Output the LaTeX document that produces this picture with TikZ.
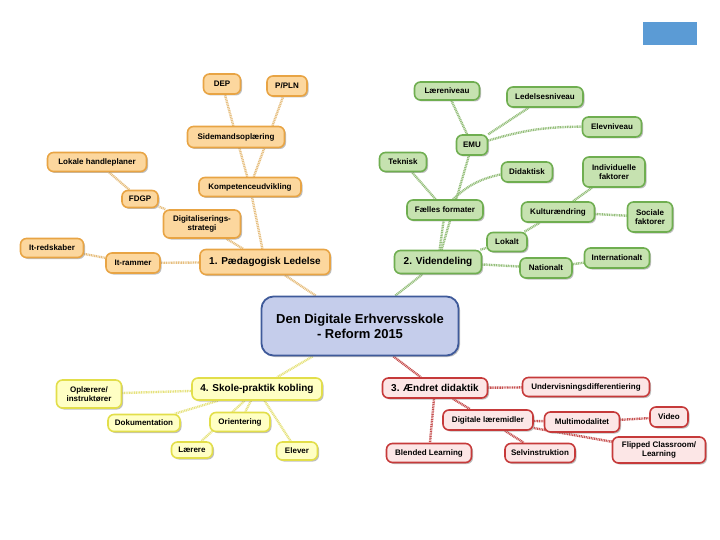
\documentclass[tikz,border=0pt]{standalone}
\usepackage{fontspec}
\setmainfont{Liberation Sans}
\usetikzlibrary{shadows,backgrounds}
\definecolor{ofill}{HTML}{FCD79E}
\definecolor{odraw}{HTML}{E8A444}
\definecolor{oline}{HTML}{E6BE7E}
\definecolor{gfill}{HTML}{C6E2B0}
\definecolor{gdraw}{HTML}{6FAE50}
\definecolor{gline}{HTML}{94BE7A}
\definecolor{rfill}{HTML}{FCE6E6}
\definecolor{rdraw}{HTML}{C63A3A}
\definecolor{rline}{HTML}{C65050}
\definecolor{yfill}{HTML}{FFFFC4}
\definecolor{ydraw}{HTML}{E2DE4A}
\definecolor{yline}{HTML}{E6E27E}
\definecolor{cfill}{HTML}{C5CDEB}
\definecolor{cdraw}{HTML}{3F5A9A}
\definecolor{bluebox}{HTML}{5B9BD5}
\begin{document}
\begin{tikzpicture}[x=1pt,y=-1pt,
  sz/.style 2 args={minimum width=#1pt, minimum height=#2pt},
  base/.style={rounded corners=6pt, line width=1.6pt, align=center, inner sep=1pt,
    font=\bfseries\fontsize{8}{9}\selectfont,
    drop shadow={shadow xshift=1.5pt,shadow yshift=-1.5pt,opacity=0.5}},
  big/.style={font=\bfseries\fontsize{10}{12}\selectfont},
  onode/.style={base, fill=ofill, draw=odraw},
  gnode/.style={base, fill=gfill, draw=gdraw},
  rnode/.style={base, fill=rfill, draw=rdraw},
  ynode/.style={base, fill=yfill, draw=ydraw},
  link/.style={line width=2.4pt, dash pattern=on 1pt off 0.7pt},
  olink/.style={link, draw=oline},
  glink/.style={link, draw=gline},
  rlink/.style={link, draw=rline},
  ylink/.style={link, draw=yline}]
\useasboundingbox (0,0) rectangle (720,540);
\fill[bluebox] (643,22) rectangle (697,45);
% center
\node[base, rounded corners=12pt, fill=cfill, draw=cdraw, line width=1.8pt, sz={197}{59},
  font=\bfseries\fontsize{13}{15}\selectfont] (c) at (360,326) {Den Digitale Erhvervsskole\\- Reform 2015};
% orange
\node[onode, sz={37}{20}] (dep) at (222,84) {DEP};
\node[onode, sz={40}{20}] (ppln) at (287,86) {P/PLN};
\node[onode, sz={97}{21}] (side) at (236,137) {Sidemandsoplæring};
\node[onode, sz={99}{19}] (lok) at (97,162) {Lokale handleplaner};
\node[onode, sz={102}{19}] (komp) at (250,187) {Kompetenceudvikling};
\node[onode, sz={36}{17}] (fdgp) at (140,199) {FDGP};
\node[onode, sz={77}{28}] (digs) at (202,224) {Digitaliserings-\\strategi};
\node[onode, sz={63}{19}] (itred) at (52,248) {It-redskaber};
\node[onode, sz={54}{20}] (itram) at (133,263) {It-rammer};
\node[onode, big, sz={130}{25}] (paed) at (265,262) {1. Pædagogisk Ledelse};
% green
\node[gnode, sz={65}{18}] (laer) at (447,91) {Læreniveau};
\node[gnode, sz={76}{20}] (led) at (545,97) {Ledelsesniveau};
\node[gnode, sz={59}{20}] (elev) at (612,127) {Elevniveau};
\node[gnode, sz={31}{20}] (emu) at (472,145) {EMU};
\node[gnode, sz={47}{19}] (tek) at (403,162) {Teknisk};
\node[gnode, sz={51}{20}] (did) at (527,172) {Didaktisk};
\node[gnode, sz={62}{30}] (ind) at (614,172) {Individuelle\\faktorer};
\node[gnode, sz={76}{20}] (fael) at (445,210) {Fælles formater};
\node[gnode, sz={73}{20}] (kult) at (558,212) {Kulturændring};
\node[gnode, sz={45}{30}] (soc) at (650,217) {Sociale\\faktorer};
\node[gnode, sz={40}{19}] (lokalt) at (507,242) {Lokalt};
\node[gnode, big, sz={87}{23}] (vid) at (438,262) {2. Videndeling};
\node[gnode, sz={65}{20}] (intl) at (617,258) {Internationalt};
\node[gnode, sz={52}{20}] (nat) at (546,268) {Nationalt};
% yellow
\node[ynode, big, sz={130}{22}] (sko) at (257,389) {4. Skole-praktik kobling};
\node[ynode, sz={65}{28}] (opl) at (89,394) {Oplærere/\\instruktører};
\node[ynode, sz={72}{17}] (dok) at (144,423) {Dokumentation};
\node[ynode, sz={60}{19}] (ori) at (240,422) {Orientering};
\node[ynode, sz={41}{16}] (lae) at (192,450) {Lærere};
\node[ynode, sz={41}{18}] (elv) at (297,451) {Elever};
% red
\node[rnode, big, sz={105}{20}] (aen) at (435,388) {3. Ændret didaktik};
\node[rnode, sz={127}{19}] (und) at (586,387) {Undervisningsdifferentiering};
\node[rnode, sz={90}{20}] (dig) at (488,420) {Digitale læremidler};
\node[rnode, sz={75}{20}] (mul) at (582,422) {Multimodalitet};
\node[rnode, sz={38}{20}] (vid2) at (669,417) {Video};
\node[rnode, sz={93}{26}] (fli) at (659,450) {Flipped Classroom/\\Learning};
\node[rnode, sz={85}{19}] (ble) at (429,453) {Blended Learning};
\node[rnode, sz={70}{19}] (sel) at (540,453) {Selvinstruktion};
\begin{scope}[on background layer]
% center links
\draw[olink] (c.north west) ++(55,0) coordinate (c1) -- (paed);
\draw[glink] (c.north east) ++(-64,0) coordinate (c2) -- (vid);
\draw[ylink] (c.south west) ++(52,0) coordinate (c3) -- (sko);
\draw[rlink] (c.south east) ++(-66,0) coordinate (c4) -- (aen);
% orange
\draw[olink] (komp) -- (dep);
\draw[olink] (komp) -- (ppln);
\draw[olink] (paed) -- (komp);
\draw[olink] (paed) -- (digs);
\draw[olink] (digs) -- (fdgp);
\draw[olink] (fdgp) -- (lok);
\draw[olink] (paed) -- (itram);
\draw[olink] (itram) -- (itred);
% green
\draw[glink] (vid) -- (emu);
\draw[glink] (vid) -- (fael);
\draw[glink] (fael) -- (tek);
\draw[glink] (fael.north) ++(8,0) to[bend left=15] (did);
\draw[glink] (emu) -- (laer);
\draw[glink] (emu) -- (led);
\draw[glink] (emu) to[bend left=8] (elev);
\draw[glink] (vid) -- (lokalt);
\draw[glink] (lokalt) -- (kult);
\draw[glink] (kult) -- (ind);
\draw[glink] (kult) -- (soc);
\draw[glink] (vid) -- (nat);
\draw[glink] (nat) -- (intl);
% yellow
\draw[ylink] (sko) -- (opl);
\draw[ylink] (sko) -- (dok);
\draw[ylink] (sko) -- (ori);
\draw[ylink] (sko) -- (lae);
\draw[ylink] (sko) -- (elv);
% red
\draw[rlink] (aen) -- (und);
\draw[rlink] (aen) -- (ble);
\draw[rlink] (aen) -- (dig);
\draw[rlink] (dig) -- (mul);
\draw[rlink] (mul) -- (vid2);
\draw[rlink] (dig) -- (sel);
\draw[rlink] (dig) -- (fli);
\end{scope}
\end{tikzpicture}
\end{document}
